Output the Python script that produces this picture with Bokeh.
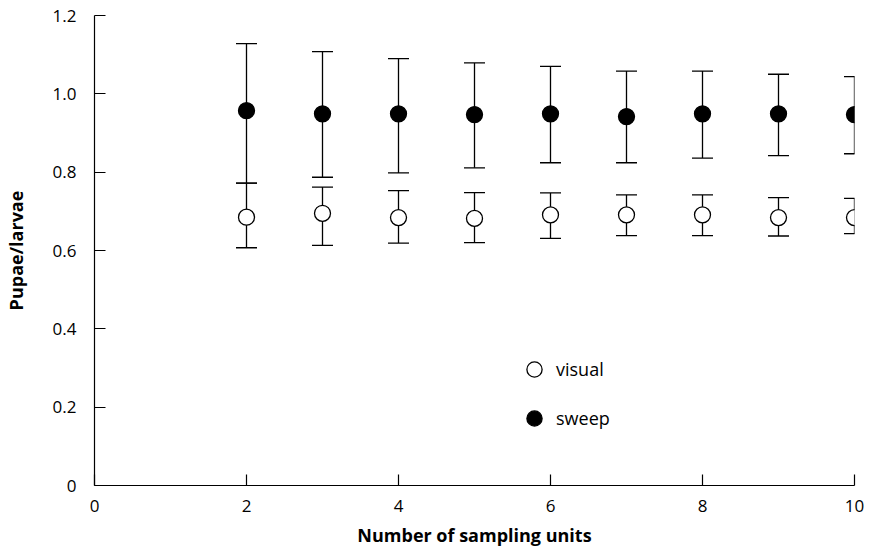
from bokeh.plotting import figure
from bokeh.models import (ColumnDataSource, Whisker, TeeHead, FixedTicker, Range1d,
                          Legend, LegendItem)
from bokeh.embed import file_html
from bokeh.resources import INLINE

# ---- data ----
n_units = [2, 3, 4, 5, 6, 7, 8, 9, 10]

visual_mean = [0.685, 0.695, 0.684, 0.682, 0.691, 0.691, 0.691, 0.684, 0.684]
visual_lower = [0.607, 0.613, 0.619, 0.620, 0.631, 0.638, 0.638, 0.637, 0.643]
visual_upper = [0.772, 0.762, 0.753, 0.748, 0.747, 0.742, 0.742, 0.735, 0.733]

sweep_mean = [0.957, 0.949, 0.949, 0.947, 0.949, 0.942, 0.949, 0.949, 0.947]
sweep_lower = [0.772, 0.787, 0.798, 0.811, 0.824, 0.824, 0.836, 0.842, 0.847]
sweep_upper = [1.128, 1.108, 1.090, 1.079, 1.070, 1.058, 1.058, 1.050, 1.044]

x_ticks = [0, 2, 4, 6, 8, 10]
y_ticks = [0, 0.2, 0.4, 0.6, 0.8, 1.0, 1.2]
y_tick_labels = ["0", "0.2", "0.4", "0.6", "0.8", "1.0", "1.2"]

series_names = ["visual", "sweep"]
x_label = "Number of sampling units"
y_label = "Pupae/larvae"

FONT = "Open Sans"

p = figure(width=865, height=555, output_backend="svg", toolbar_location=None,
           x_range=Range1d(0, 10), y_range=Range1d(0, 1.2),
           min_border_left=93, min_border_top=15, min_border_right=11, min_border_bottom=70)
p.outline_line_color = None
p.grid.visible = False
p.background_fill_color = "white"

vis_src = ColumnDataSource(dict(x=n_units, y=visual_mean, lo=visual_lower, hi=visual_upper))
swp_src = ColumnDataSource(dict(x=n_units, y=sweep_mean, lo=sweep_lower, hi=sweep_upper))

for src in (swp_src, vis_src):
    w = Whisker(source=src, base="x", lower="lo", upper="hi",
                line_color="black", line_width=1.3,
                upper_head=TeeHead(size=21, line_color="black", line_width=1.3),
                lower_head=TeeHead(size=21, line_color="black", line_width=1.3))
    p.add_layout(w)

r_swp = p.scatter("x", "y", source=swp_src, size=16, fill_color="black",
                  line_color="black", line_width=1.3)
r_vis = p.scatter("x", "y", source=vis_src, size=16, fill_color="white",
                  line_color="black", line_width=1.3)

legend = Legend(items=[LegendItem(label=series_names[0], renderers=[r_vis]),
                       LegendItem(label=series_names[1], renderers=[r_swp])],
                location=(421, 48), orientation="vertical",
                glyph_width=38, glyph_height=38, label_height=38,
                spacing=11, padding=0, margin=0, label_standoff=3,
                border_line_color=None, background_fill_alpha=0,
                label_text_font=FONT, label_text_font_size="18px",
                label_text_color="black")
p.add_layout(legend)

# axes
p.xaxis.ticker = FixedTicker(ticks=x_ticks)
p.yaxis.ticker = FixedTicker(ticks=y_ticks)
p.yaxis.major_label_overrides = {t: l for t, l in zip(y_ticks, y_tick_labels)}
p.xaxis.axis_label = x_label
p.yaxis.axis_label = y_label
for ax in (p.xaxis, p.yaxis):
    ax.axis_line_color = "black"
    ax.axis_line_width = 1.2
    ax.major_tick_line_color = "black"
    ax.major_tick_line_width = 1.2
    ax.major_tick_in = 11
    ax.major_tick_out = 0
    ax.minor_tick_line_color = None
    ax.major_label_text_font = FONT
    ax.major_label_text_font_size = "17px"
    ax.major_label_text_color = "black"
    ax.axis_label_text_font = FONT
    ax.axis_label_text_font_size = "18px"
    ax.axis_label_text_font_style = "bold"
    ax.axis_label_text_color = "black"
p.xaxis.major_label_standoff = 14
p.xaxis.axis_label_standoff = 8
p.yaxis.major_label_standoff = 18
p.yaxis.axis_label_standoff = 22

open("out.html", "w").write(file_html(p, INLINE))
